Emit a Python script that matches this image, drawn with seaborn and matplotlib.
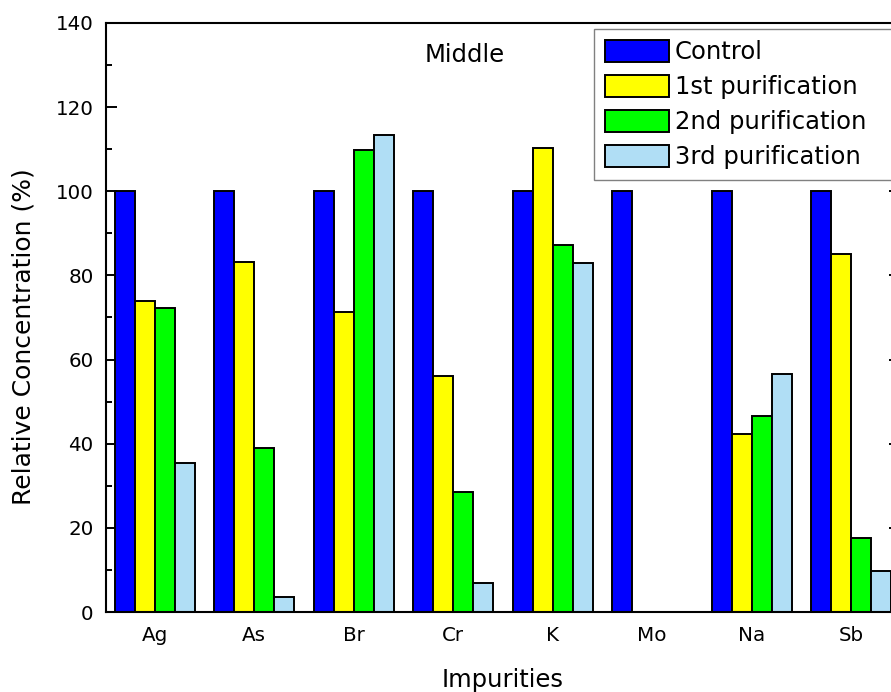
import matplotlib
matplotlib.use("Agg")
import matplotlib.pyplot as plt
import seaborn as sns
import pandas as pd
from matplotlib.ticker import MultipleLocator

categories = ["Ag", "As", "Br", "Cr", "K", "Mo", "Na", "Sb"]
series_names = ["Control", "1st purification", "2nd purification", "3rd purification"]
control = [100, 100, 100, 100, 100, 100, 100, 100]
first = [74.0, 83.2, 71.2, 56.0, 110.3, 0, 42.2, 85.0]
second = [72.3, 39.0, 109.7, 28.5, 87.3, 0, 46.5, 17.6]
third = [35.4, 3.6, 113.3, 7.0, 83.0, 0, 56.6, 9.8]
colors = ["#0000FF", "#FFFF00", "#00FF00", "#B0DEF5"]

rows = []
for name, vals in zip(series_names, [control, first, second, third]):
    for c, v in zip(categories, vals):
        rows.append({"Impurity": c, "Series": name, "Value": v})
df = pd.DataFrame(rows)

sns.set_theme(style="white")
plt.rcParams["font.family"] = ["DejaVu Sans"]
for k in ["text.color", "axes.labelcolor", "xtick.color", "ytick.color", "axes.edgecolor"]:
    plt.rcParams[k] = "black"

fig = plt.figure(figsize=(8.91, 6.92), dpi=100)
W, H = 891, 692
ax = fig.add_axes([106 / W, 1 - 612 / H, (900 - 106) / W, (612 - 23) / H])

sns.barplot(data=df, x="Impurity", y="Value", hue="Series", order=categories,
            hue_order=series_names, palette=colors, width=0.8, gap=0,
            edgecolor="black", linewidth=1.4, saturation=1, ax=ax, legend=False)

ax.set_xlim(-0.49, 7.49)
ax.set_ylim(0, 140)
ax.yaxis.set_major_locator(MultipleLocator(20))
ax.yaxis.set_minor_locator(MultipleLocator(10))
ax.tick_params(axis="y", which="major", direction="in", length=8, width=1.4,
               left=True, right=True, labelsize=14.3, color="black", pad=9)
ax.tick_params(axis="y", which="minor", direction="in", length=4, width=1.4,
               left=True, right=True, color="black")
ax.tick_params(axis="x", length=0, labelsize=14.3, pad=10)
for sp in ax.spines.values():
    sp.set_visible(True)
    sp.set_color("black")
    sp.set_linewidth(1.5)

ax.set_xlabel("Impurities", fontsize=17.5)
ax.set_ylabel("Relative Concentration (%)", fontsize=18)
ax.xaxis.set_label_coords(0.5, -0.095)
ax.yaxis.set_label_coords((36 - 106) / 794, (612 - 336.5) / 589)
ax.text(465 / W, 1 - 55 / H, "Middle", transform=fig.transFigure,
        ha="center", va="center", fontsize=17.5)

handles = list(ax.containers)
leg = ax.legend(handles, series_names, loc="upper left",
                bbox_to_anchor=(594 / W, 1 - 29 / H - 0.01, (915 - 594) / W, 0.01),
                bbox_transform=fig.transFigure, mode="expand",
                fontsize=17.5, handlelength=2.63, handleheight=0.99, handletextpad=0.25,
                labelspacing=0.45, borderpad=0.45, fancybox=False, framealpha=1,
                edgecolor="#808080", borderaxespad=0)
leg.get_frame().set_linewidth(1.0)

fig.savefig("out.png", dpi=100)
